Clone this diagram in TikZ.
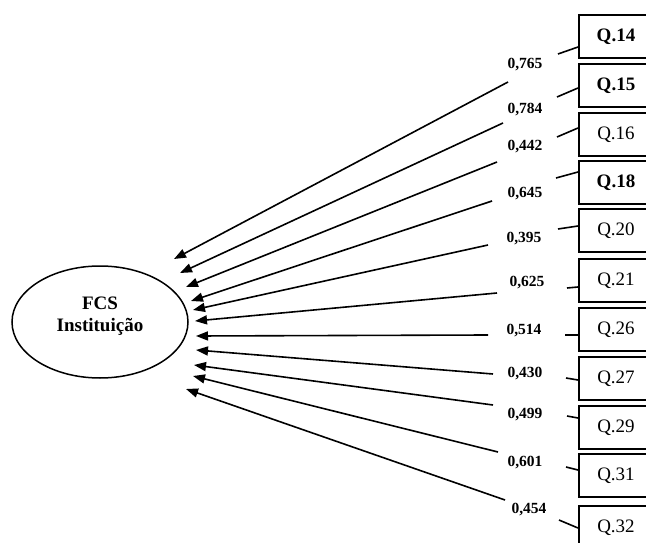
\documentclass[tikz,border=0pt]{standalone}
\usepackage{fontspec}
\setmainfont{Liberation Serif}
\usetikzlibrary{arrows.meta,shapes.geometric}
\begin{document}
\begin{tikzpicture}[x=1pt,y=-1pt,
  qbox/.style={draw,line width=2pt,minimum width=74pt,minimum height=43pt,anchor=north west,inner sep=0pt,font=\fontsize{19}{19}\selectfont},
  wt/.style={font=\fontsize{15.5}{15.5}\bfseries\selectfont,inner sep=0pt},
  conn/.style={line width=1.6pt},
  arr/.style={line width=1.6pt,-{Triangle[length=12pt,width=9pt]}}]
\useasboundingbox (0,0) rectangle (646,543);
\clip (0,0) rectangle (646,543);
% latent variable
\node[draw,ellipse,line width=1.5pt,minimum width=176pt,minimum height=112pt,inner sep=0pt] (fcs) at (100,322) {};
\node[font=\fontsize{19}{22}\bfseries\selectfont,align=center,inner sep=0pt] (fcstext) at (100,316) {FCS\\Instituição};
% indicator boxes
\node[qbox] (q14) at (578,14) {\bfseries Q.14};
\node[qbox] (q15) at (578,63) {\bfseries Q.15};
\node[qbox] (q16) at (578,112) {Q.16};
\node[qbox] (q18) at (578,160) {\bfseries Q.18};
\node[qbox] (q20) at (578,208) {Q.20};
\node[qbox] (q21) at (578,258) {Q.21};
\node[qbox] (q26) at (578,307) {Q.26};
\node[qbox] (q27) at (578,356) {Q.27};
\node[qbox] (q29) at (578,405) {Q.29};
\node[qbox] (q31) at (578,453) {Q.31};
\node[qbox] (q32) at (578,505) {Q.32};
% weights
\node[wt] (l1) at (525,65) {0,765};
\node[wt] (l2) at (525,110) {0,784};
\node[wt] (l3) at (525,147) {0,442};
\node[wt] (l4) at (525,194) {0,645};
\node[wt] (l5) at (524,239) {0,395};
\node[wt] (l6) at (527,283) {0,625};
\node[wt] (l7) at (524,331) {0,514};
\node[wt] (l8) at (525,374) {0,430};
\node[wt] (l9) at (525,415) {0,499};
\node[wt] (l10) at (525,463) {0,601};
\node[wt] (l11) at (529,510) {0,454};
% connector points
\coordinate (b1) at (578,47);  \coordinate (s1a) at (558,54);  \coordinate (s1b) at (508,82);  \coordinate (t1) at (174,259);
\coordinate (b2) at (578,88);  \coordinate (s2a) at (557,97);  \coordinate (s2b) at (503,123); \coordinate (t2) at (180,273);
\coordinate (b3) at (578,128); \coordinate (s3a) at (557,137); \coordinate (s3b) at (497,162); \coordinate (t3) at (186,287);
\coordinate (b4) at (578,172); \coordinate (s4a) at (556,178); \coordinate (s4b) at (492,201); \coordinate (t4) at (191,301);
\coordinate (b5) at (578,226); \coordinate (s5a) at (558,229); \coordinate (s5b) at (488,245); \coordinate (t5) at (193,310);
\coordinate (b6) at (578,287); \coordinate (s6a) at (567,288); \coordinate (s6b) at (497,293); \coordinate (t6) at (195,321);
\coordinate (b7) at (578,335); \coordinate (s7a) at (565,335); \coordinate (s7b) at (488,335); \coordinate (t7) at (196,336);
\coordinate (b8) at (578,380); \coordinate (s8a) at (566,378); \coordinate (s8b) at (493,374); \coordinate (t8) at (196,350);
\coordinate (b9) at (578,418); \coordinate (s9a) at (567,416); \coordinate (s9b) at (493,405); \coordinate (t9) at (194,365);
\coordinate (b10) at (578,470); \coordinate (s10a) at (566,467); \coordinate (s10b) at (498,452); \coordinate (t10) at (193,376);
\coordinate (b11) at (578,528); \coordinate (s11a) at (559,520); \coordinate (s11b) at (505,500); \coordinate (t11) at (186,389);
\foreach \i in {1,...,11}{
  \draw[conn] (b\i) -- (s\i a);
  \draw[arr] (s\i b) -- (t\i);
}
\end{tikzpicture}
\end{document}
